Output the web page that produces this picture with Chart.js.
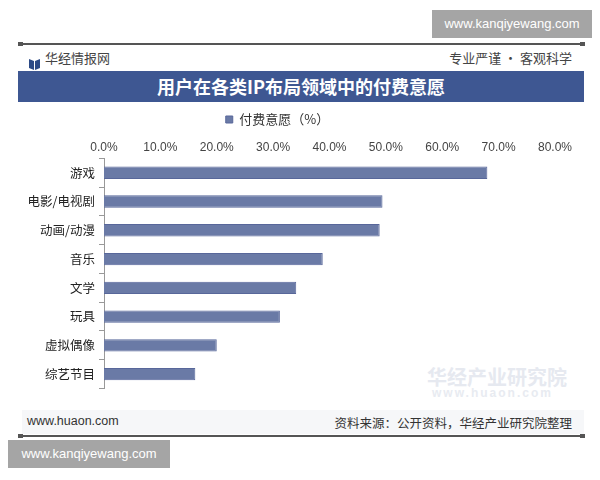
<!DOCTYPE html>
<html>
<head>
<meta charset="utf-8">
<script src="https://cdn.jsdelivr.net/npm/chart.js@4.4.1/dist/chart.umd.min.js"></script>
<style>
  html, body { margin:0; padding:0; background:#fff; }
  body { width:600px; height:480px; position:relative; overflow:hidden; font-family:"Noto Sans CJK SC", "Noto Sans", sans-serif; }
  .abs { position:absolute; }
  .wm { background:#a5a5a5; color:#fff; font-family:"Liberation Sans", Arial, sans-serif; font-size:13px; line-height:28px; text-align:center; }
  .rule { height:2px; background:#555; left:18px; width:567px; }
  .rule:before, .rule:after { content:""; position:absolute; top:-1px; width:5px; height:4px; background:#555; }
  .rule:before { left:0; } .rule:after { right:0; }
</style>
</head>
<body>
<div class="abs wm" style="left:432px; top:10px; width:160px; height:28px;">www.kanqiyewang.com</div>
<div class="abs rule" style="top:43px;"></div>
<div class="abs" style="left:29px; top:51px; width:11px; height:12px;">
  <svg width="11" height="12" viewBox="0 0 11 12"><path d="M0 1 L5 3 L5 12 L0 10 Z" fill="#2c4a86"/><path d="M6 3 L11 1 L11 10 L6 12 Z" fill="#2c4a86"/></svg>
</div>
<div class="abs" style="left:45px; top:48px; font-size:13px; color:#444;">华经情报网</div>
<div class="abs" style="right:28px; top:48px; font-size:13px; color:#444;">专业严谨 • 客观科学</div>
<div class="abs" style="left:18px; top:71px; width:566px; height:31px; background:#3e5792; color:#fff; font-size:18px; font-weight:bold; text-align:center; line-height:31px;">用户在各类IP布局领域中的付费意愿</div>
<div class="abs" style="left:427px; top:362px; font-size:20px; font-weight:bold; color:#e6e9f0;">华经产业研究院</div>
<div class="abs" style="left:432px; top:386px; font-family:'Liberation Sans', Arial, sans-serif; font-size:12px; font-weight:bold; letter-spacing:2px; color:#e8ebf1;">www.huaon.com</div>
<div class="abs" style="left:22px; top:410px; width:562px; height:24px; background:#f6f7f9;"></div>
<div class="abs" style="left:27px; top:414px; font-family:'Liberation Sans', Arial, sans-serif; font-size:12.5px; color:#333;">www.huaon.com</div>
<div class="abs" style="right:28px; top:413px; font-size:12.5px; color:#333;">资料来源：公开资料，华经产业研究院整理</div>
<div class="abs rule" style="top:435px;"></div>
<div class="abs wm" style="left:8px; top:440px; width:162px; height:28px;">www.kanqiyewang.com</div>

<div class="abs" style="left:0; top:109px; width:600px; height:291px;">
  <canvas id="c"></canvas>
</div>
<script>
const categories = ["游戏", "电影/电视剧", "动画/动漫", "音乐", "文学", "玩具", "虚拟偶像", "综艺节目"];
const seriesName = "付费意愿（%）";
const values = [68.0, 49.4, 48.9, 38.8, 34.1, 31.2, 20.0, 16.2];
const xTicks = [0, 10, 20, 30, 40, 50, 60, 70, 80];

new Chart(document.getElementById('c'), {
  type: 'bar',
  data: {
    labels: categories,
    datasets: [{
      label: seriesName,
      data: values,
      backgroundColor: '#6a7aa6',
      borderColor: '#58679a',
      borderWidth: 1,
      categoryPercentage: 1.0,
      barPercentage: 0.43
    }]
  },
  options: {
    indexAxis: 'y',
    responsive: true,
    maintainAspectRatio: false,
    animation: false,
    layout: { padding: { left: 0, right: 45, top: 2, bottom: 7 } },
    plugins: {
      legend: {
        display: true,
        position: 'top',
        labels: {
          boxWidth: 7, boxHeight: 7, padding: 2,
          color: '#333',
          font: { size: 13, family: '"Noto Sans CJK SC", sans-serif' }
        }
      },
      tooltip: { enabled: false }
    },
    scales: {
      x: {
        position: 'top',
        min: 0, max: 80,
        afterBuildTicks: s => { s.ticks = xTicks.map(v => ({ value: v })); },
        grid: { display: false, drawTicks: false },
        border: { display: false },
        ticks: {
          color: '#444',
          padding: 10,
          font: { size: 12, lineHeight: 0.2, family: '"Liberation Sans", Arial, sans-serif' },
          callback: v => Number(v).toFixed(1) + '%'
        }
      },
      y: {
        afterFit: s => { s.width = 104; },
        grid: { display: true, drawOnChartArea: false, tickLength: 5, color: '#999', offset: true },
        border: { display: true, color: '#999' },
        ticks: {
          color: '#222',
          padding: 4,
          font: { size: 12.5, family: '"Noto Sans CJK SC", sans-serif' }
        }
      }
    }
  }
});
</script>
</body>
</html>
